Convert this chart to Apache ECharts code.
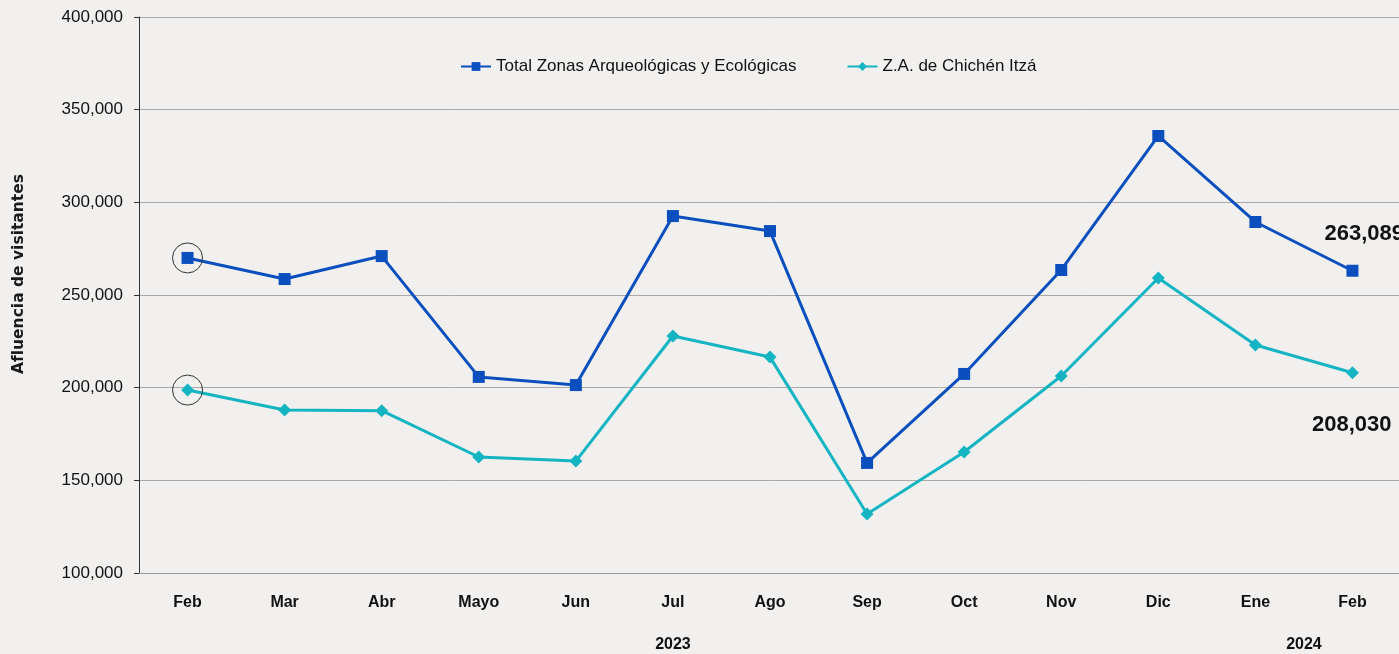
<!DOCTYPE html>
<html lang="es">
<head>
    <meta charset="UTF-8">
    <title>Afluencia de visitantes</title>
    <style>
        html, body { margin: 0; padding: 0; background: #f1f0ee; }
        #main { width: 1399px; height: 654px; }
    </style>
    <script src="https://cdn.jsdelivr.net/npm/echarts@6/dist/echarts.min.js"></script>
</head>
<body>
<div id="main"></div>
<script>
    var meses = ['Feb', 'Mar', 'Abr', 'Mayo', 'Jun', 'Jul', 'Ago', 'Sep', 'Oct', 'Nov', 'Dic', 'Ene', 'Feb'];
    var totalZonas = [270000, 258600, 271000, 205800, 201400, 292600, 284500, 159400, 207400, 263500, 335800, 289400, 263089];
    var chichenItza = [198700, 188000, 187600, 162600, 160400, 227900, 216500, 131800, 165300, 206300, 259200, 223000, 208030];
    var anios = ['2023', '2024'];
    // posicion (indice de mes) donde va cada año
    var aniosPos = [5, 11.5];

    var fuente = '"Liberation Sans", Arial, sans-serif';

    var chart = echarts.init(document.getElementById('main'));

    var option = {
        backgroundColor: '#f1f0ee',
        textStyle: { fontFamily: fuente },
        grid: { left: 139, top: 17, width: 1262, bottom: 81, outerBoundsMode: 'none', containLabel: false },
        legend: {
            left: 455,
            top: 53,
            itemWidth: 30,
            itemHeight: 11,
            itemGap: 50,
            textStyle: { fontSize: 17, color: '#111', fontFamily: fuente },
            data: ['Total Zonas Arqueológicas y Ecológicas', 'Z.A. de Chichén Itzá']
        },
        xAxis: [{
            type: 'category',
            data: meses,
            boundaryGap: true,
            axisLine: { lineStyle: { color: '#999', width: 1 } },
            axisTick: { show: false },
            axisLabel: { margin: 22, fontSize: 16, fontWeight: 'bold', color: '#111' }
        }, {
            type: 'value',
            position: 'bottom',
            min: -0.5,
            max: 12.5,
            offset: 56,
            axisLine: { show: false, onZero: false },
            axisTick: { show: false },
            splitLine: { show: false },
            axisLabel: {
                customValues: aniosPos,
                fontSize: 16,
                fontWeight: 'bold',
                color: '#111',
                formatter: function (v) {
                    var i = aniosPos.indexOf(v);
                    return i >= 0 ? anios[i] : '';
                }
            }
        }],
        yAxis: {
            type: 'value',
            min: 100000,
            max: 400000,
            interval: 50000,
            name: 'Afluencia de visitantes',
            nameLocation: 'middle',
            nameGap: 112,
            nameTextStyle: {
                fontSize: 15.5,
                fontWeight: 'bold',
                color: '#1a1a1a',
                fontFamily: '"DejaVu Sans", sans-serif',
                padding: [0, 0, 0, 42]
            },
            axisLine: { show: true, onZero: false, lineStyle: { color: '#333', width: 1 } },
            axisTick: { show: true, length: 5, lineStyle: { color: '#333' } },
            splitLine: { lineStyle: { color: '#aaa', width: 1 } },
            axisLabel: {
                margin: 16,
                fontSize: 17,
                color: '#111',
                formatter: function (v) { return v.toLocaleString('en-US'); }
            }
        },
        series: [{
            name: 'Total Zonas Arqueológicas y Ecológicas',
            type: 'line',
            data: totalZonas,
            symbol: 'rect',
            symbolSize: 12,
            lineStyle: { color: '#0b4fbf', width: 3 },
            itemStyle: { color: '#0b4fbf' },
            label: {
                show: true,
                formatter: function (p) {
                    return p.dataIndex === totalZonas.length - 1 ? p.value.toLocaleString('en-US') : '';
                },
                position: [-22, -42],
                fontSize: 22,
                fontWeight: 'bold',
                color: '#111'
            },
            markPoint: {
                symbol: 'circle',
                symbolSize: 30,
                silent: true,
                itemStyle: { color: 'rgba(0,0,0,0)', borderColor: '#333', borderWidth: 1 },
                label: { show: false },
                data: [{ coord: [0, totalZonas[0]] }]
            },
            z: 3
        }, {
            name: 'Z.A. de Chichén Itzá',
            type: 'line',
            data: chichenItza,
            symbol: 'diamond',
            symbolSize: 13,
            lineStyle: { color: '#14b4c2', width: 3 },
            itemStyle: { color: '#14b4c2' },
            label: {
                show: true,
                formatter: function (p) {
                    return p.dataIndex === chichenItza.length - 1 ? p.value.toLocaleString('en-US') : '';
                },
                position: [-34, 48],
                fontSize: 22,
                fontWeight: 'bold',
                color: '#111'
            },
            markPoint: {
                symbol: 'circle',
                symbolSize: 30,
                silent: true,
                itemStyle: { color: 'rgba(0,0,0,0)', borderColor: '#333', borderWidth: 1 },
                label: { show: false },
                data: [{ coord: [0, chichenItza[0]] }]
            },
            z: 2
        }]
    };

    chart.setOption(option);
</script>
</body>
</html>
